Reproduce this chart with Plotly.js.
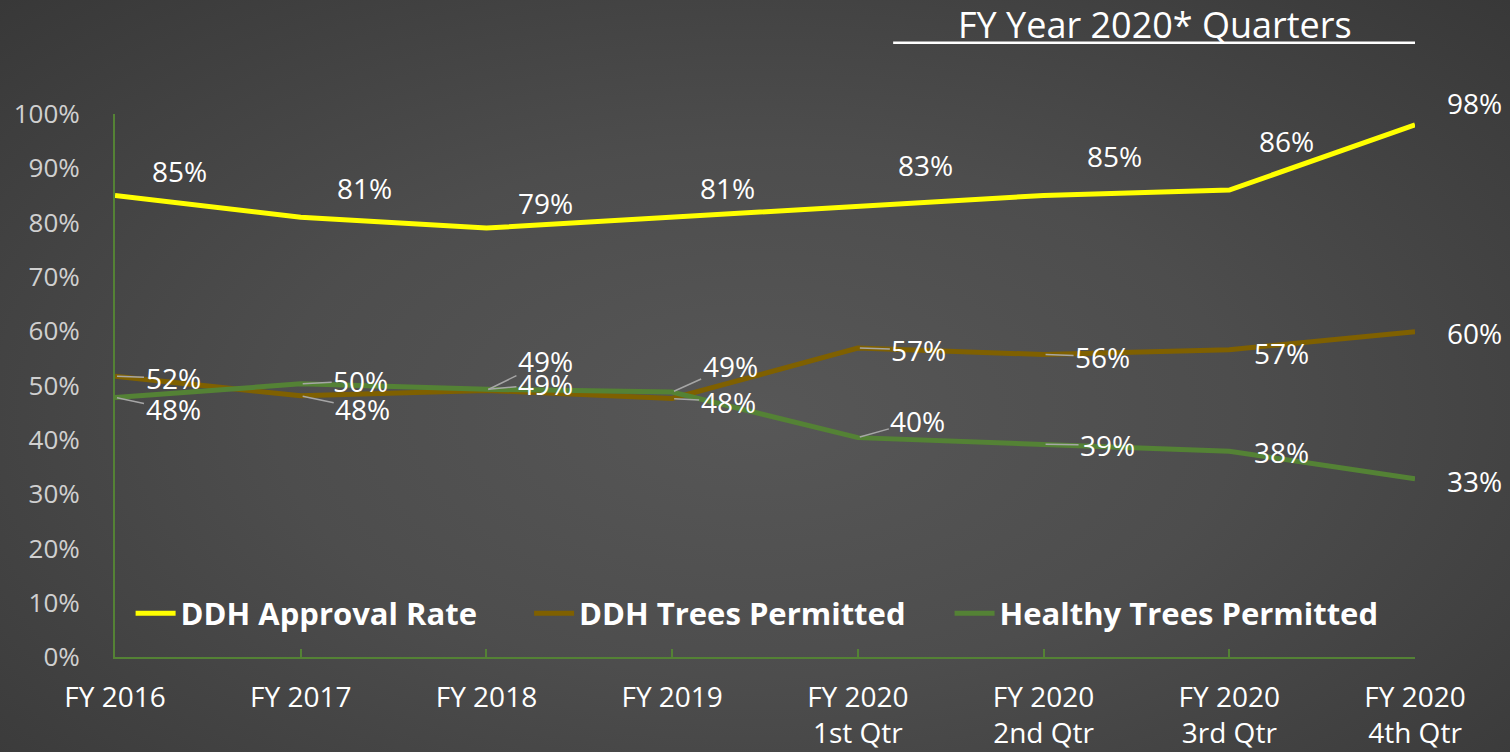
<!DOCTYPE html>
<html>
<head>
<meta charset="utf-8">
<script src="https://cdn.plot.ly/plotly-3.0.1.min.js"></script>
<style>
  html, body { margin: 0; padding: 0; width: 1510px; height: 752px; overflow: hidden;
    background: radial-gradient(ellipse at 50% 55%, #575757 0%, #4d4d4d 45%, #383838 100%); }
  #chart { width: 1510px; height: 752px; }
</style>
</head>
<body>
<div id="chart"></div>
<script>
// ---- Data ----
const categories = ["FY 2016", "FY 2017", "FY 2018", "FY 2019",
  "FY 2020<br>1st Qtr", "FY 2020<br>2nd Qtr", "FY 2020<br>3rd Qtr", "FY 2020<br>4th Qtr"];
const seriesNames = ["DDH Approval Rate", "DDH Trees Permitted", "Healthy Trees Permitted"];
const approvalRate = [85, 81, 79, 81, 83, 85, 86, 98];
const ddhTrees = [51.7, 48.1, 49.1, 47.6, 56.9, 55.7, 56.6, 59.9];
const healthyTrees = [47.8, 50.3, 49.3, 48.8, 40.4, 39.2, 37.9, 32.8];
const yTickValues = [0, 10, 20, 30, 40, 50, 60, 70, 80, 90, 100];
const sectionTitle = "FY Year 2020* Quarters";

// ---- Styles / label offsets (pixels) ----
const colors = ["#ffff00", "#7f6000", "#548235"];
const legendPad = ["\u2003\u00a0\u00a0", "\u2003\u00a0", ""];
const labelOffsets = [
  [[64,-24],[64,-29],[59,-25],[55,-29],[68,-41],[71,-39],[57,-49],[59,-22]],
  [[58,2],[62,13],[59,-29],[56,3],[61,2],[59,2],[52,3],[59,1]],
  [[58,12],[60,-3],[59,-5],[58,-26],[60,-17],[64,1],[52,1],[59,2]]
];
const hasLeader = [
  [false,false,false,false,false,false,false,false],
  [true,true,true,true,true,true,false,false],
  [true,true,true,true,true,true,false,false]
];

const allSeries = [approvalRate, ddhTrees, healthyTrees];
const xIdx = categories.map((_, i) => i);

const traces = allSeries.map((vals, s) => ({
  type: "scatter", mode: "lines",
  x: xIdx, y: vals, name: seriesNames[s] + legendPad[s],
  line: { color: colors[s], width: 5 },
  hoverinfo: "skip"
}));

const annotations = [];
allSeries.forEach((vals, s) => {
  vals.forEach((v, i) => {
    const off = labelOffsets[s][i];
    annotations.push({
      x: i, y: v, xref: "x", yref: "y",
      text: Math.round(v) + "%",
      showarrow: true, arrowhead: 0, arrowwidth: 1.5,
      arrowcolor: hasLeader[s][i] ? "#a6a6a6" : "rgba(0,0,0,0)",
      ax: off[0], ay: off[1], standoff: 2,
      font: { family: "Open Sans, sans-serif", size: 28, color: "#ffffff" }
    });
  });
});

annotations.push({
  xref: "x", yref: "paper", x: 5.6, y: 1.164, yanchor: "middle",
  text: sectionTitle, showarrow: false,
  font: { family: "Open Sans, sans-serif", size: 36, color: "#ffffff" }
});

const layout = {
  width: 1510, height: 752,
  paper_bgcolor: "rgba(0,0,0,0)", plot_bgcolor: "rgba(0,0,0,0)",
  margin: { l: 115, r: 95, t: 114, b: 95 },
  showlegend: true,
  legend: {
    orientation: "h", x: 0.012, y: 0.08, xanchor: "left", yanchor: "middle",
    bgcolor: "rgba(0,0,0,0)",
    font: { family: "Open Sans, sans-serif", size: 31, color: "#ffffff", weight: "bold" },
    itemwidth: 40
  },
  xaxis: {
    range: [0, 7], tickmode: "array", tickvals: xIdx, ticktext: categories,
    showgrid: false, zeroline: false, showline: true, linecolor: "#548235", linewidth: 2,
    ticks: "inside", ticklen: 8, tickcolor: "#548235", tickwidth: 2,
    ticklabelstandoff: 14,
    tickfont: { family: "Open Sans, sans-serif", size: 28, color: "#ffffff" },
    fixedrange: true
  },
  yaxis: {
    range: [0, 100], tickmode: "array", tickvals: yTickValues,
    ticktext: yTickValues.map(v => v + "%"),
    showgrid: false, zeroline: false, showline: true, linecolor: "#548235", linewidth: 2,
    ticks: "", ticklabelstandoff: 28,
    tickfont: { family: "Open Sans, sans-serif", size: 26, color: "#d0d0d0" },
    fixedrange: true
  },
  shapes: [{
    type: "line", xref: "x", yref: "paper", x0: 4.19, x1: 7.02, y0: 1.131, y1: 1.131,
    line: { color: "#ffffff", width: 2.5 }
  }],
  annotations: annotations
};

Plotly.newPlot("chart", traces, layout, { displayModeBar: false, staticPlot: true });
</script>
</body>
</html>
